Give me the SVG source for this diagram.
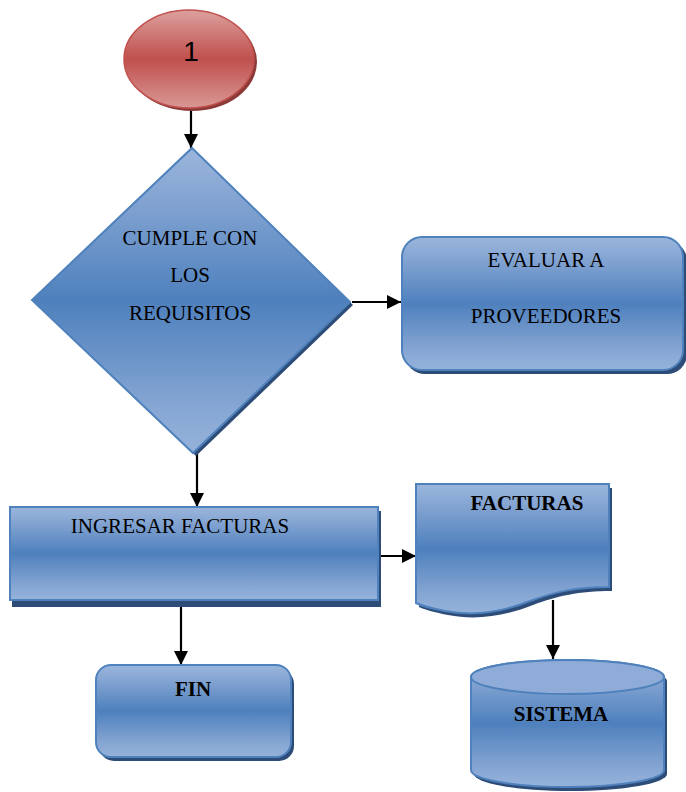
<svg xmlns="http://www.w3.org/2000/svg" width="686" height="792" viewBox="0 0 686 792">
<defs>
<linearGradient id="gb" x1="0" y1="0" x2="0" y2="1">
<stop offset="0" stop-color="#9ab6dc"/>
<stop offset="0.15" stop-color="#86a6d3"/>
<stop offset="0.5" stop-color="#4e80bd"/>
<stop offset="0.85" stop-color="#86a6d3"/>
<stop offset="1" stop-color="#95b2da"/>
</linearGradient>
<linearGradient id="gr" x1="0" y1="0" x2="0" y2="1">
<stop offset="0" stop-color="#dca09e"/>
<stop offset="0.5" stop-color="#c0504d"/>
<stop offset="1" stop-color="#d99895"/>
</linearGradient>
<marker id="ah" viewBox="0 0 10 10" refX="10" refY="5" markerWidth="6.5" markerHeight="6.5" orient="auto" markerUnits="strokeWidth">
<path d="M0,0 L10,5 L0,10 Z" fill="#000"/>
</marker>
<style>
.s{fill:url(#gb);stroke:#4f81bd;stroke-width:2}
.sh{fill:#2d4d78}
.t{font-family:"Liberation Serif","Times New Roman",serif;font-size:21px;fill:#000;text-anchor:middle}
.b{font-weight:bold}
.c{stroke:#000;stroke-width:2.2;fill:none;marker-end:url(#ah)}
</style>
</defs>
<g id="connectors">
<path class="c" d="M191,108 V148"/>
<path class="c" d="M352,302 H401"/>
<path class="c" d="M197,453 V507"/>
<path class="c" d="M378,556 H416"/>
<path class="c" d="M181,600 V665"/>
<path class="c" d="M553,600 V659"/>
</g>
<g id="start">
<ellipse cx="192" cy="62" rx="65" ry="49" fill="#8c3a38"/>
<ellipse cx="189" cy="59" rx="65" ry="49" fill="url(#gr)" stroke="#c0504d" stroke-width="1.5"/>
<text x="191" y="61" font-family="'Liberation Sans',Arial,sans-serif" font-size="28" text-anchor="middle">1</text>
</g>
<g id="decision">
<path class="sh" d="M194,151 L353,305 L196,456 L35,303 Z"/>
<path class="s" d="M192,148 L350,302 L193,453 L32,300 Z"/>
<text class="t" x="190" y="245">CUMPLE CON</text>
<text class="t" x="190" y="282">LOS</text>
<text class="t" x="190" y="320">REQUISITOS</text>
</g>
<g id="evaluar">
<rect class="sh" x="405" y="241" width="282" height="133" rx="20"/>
<rect class="s" x="402" y="237" width="281" height="133" rx="20"/>
<text class="t" x="546" y="267">EVALUAR A</text>
<text class="t" x="546" y="323">PROVEEDORES</text>
</g>
<g id="ingresar">
<rect class="sh" x="12" y="511" width="369" height="96"/>
<rect class="s" x="10" y="507" width="368" height="93"/>
<text class="t" x="180" y="533">INGRESAR FACTURAS</text>
</g>
<g id="facturas">
<path class="sh" transform="translate(3,4)" d="M416,484 H609 V587 C575,587 555,592 530,601 C505,611 475,617 445,611 C430,608 420,605 416,603 Z"/>
<path class="s" d="M416,484 H609 V587 C575,587 555,592 530,601 C505,611 475,617 445,611 C430,608 420,605 416,603 Z"/>
<text class="t b" x="527" y="510">FACTURAS</text>
</g>
<g id="fin">
<rect class="sh" x="99" y="669" width="195" height="92" rx="15"/>
<rect class="s" x="96" y="665" width="195" height="92" rx="15"/>
<text class="t b" x="193" y="696">FIN</text>
</g>
<g id="sistema">
<path class="sh" transform="translate(3,4)" d="M471,677 V770 A96.5,17 0 0 0 664,770 V677 A96.5,17 0 0 0 471,677 Z"/>
<path class="s" d="M471,677 V770 A96.5,17 0 0 0 664,770 V677 A96.5,17 0 0 0 471,677 Z"/>
<ellipse cx="567.5" cy="677" rx="96.5" ry="17" fill="#8eacd7" stroke="#4f81bd" stroke-width="2"/>
<text class="t b" x="561" y="721">SISTEMA</text>
</g>
</svg>
